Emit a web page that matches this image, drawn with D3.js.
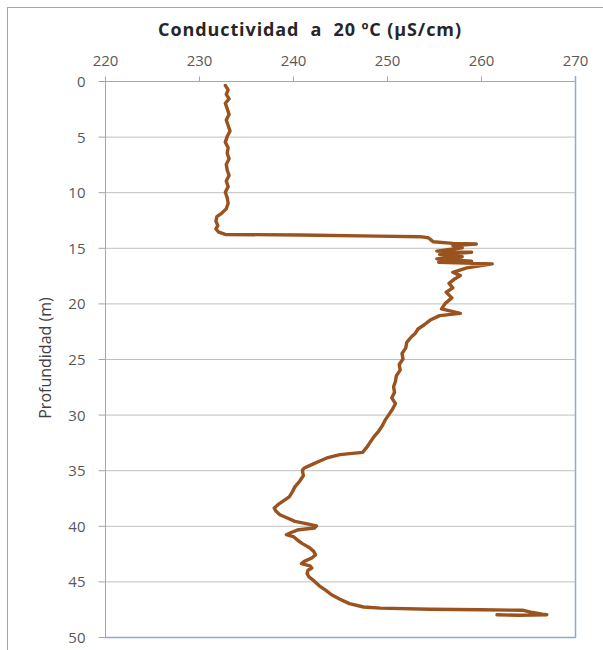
<!DOCTYPE html>
<html>
<head>
<meta charset="utf-8">
<script src="https://cdn.jsdelivr.net/npm/d3@7"></script>
<style>
  body { margin: 0; background: #fff; }
  svg text { font-family: "Open Sans", sans-serif; }
</style>
</head>
<body>
<div class="chart"></div>
<script>
// depth (m) and conductivity at 20 ºC (µS/cm), read from the profile
const depth = [
  0.4, 0.8, 1.2, 1.6, 2.0, 2.5, 3.0, 3.5, 4.0, 4.5, 5.0, 5.5, 6.0, 6.5, 7.0, 7.5, 8.0, 8.5, 9.0, 9.5,
  10.0, 10.5, 11.0, 11.5, 11.9, 12.2, 12.6, 13.0, 13.3, 13.6, 13.8, 13.85, 13.95, 14.0, 14.1, 14.45,
  14.6, 14.66, 14.8, 15.0, 15.3, 15.4, 15.6, 15.8, 16.0, 16.2, 16.3, 16.45, 16.8, 17.2, 17.5, 17.8,
  18.2, 18.6, 19.0, 19.5, 20.0, 20.5, 20.9, 21.1, 21.5, 21.9, 22.3, 22.7, 23.0, 23.5, 24.0, 24.5,
  25.0, 25.5, 26.0, 26.5, 27.0, 27.5, 28.0, 28.5, 29.0, 29.5, 30.0, 30.5, 31.0, 31.5, 32.0, 32.5,
  33.0, 33.4, 33.6, 33.9, 34.2, 34.5, 34.8, 35.0, 35.5, 36.0, 36.5, 37.0, 37.4, 37.8, 38.1, 38.4,
  38.7, 39.0, 39.3, 39.6, 39.8, 40.0, 40.2, 40.35, 40.6, 40.8, 41.0, 41.3, 41.6, 42.0, 42.3, 42.6,
  42.9, 43.2, 43.4, 43.6, 43.8, 44.0, 44.3, 44.6, 45.0, 45.4, 45.8, 46.2, 46.6, 47.0, 47.3, 47.4,
  47.5, 47.55, 47.6, 47.8, 47.95, 48.0, 48.05, 48.0
];
const conductivity = [
  232.8, 233.1, 232.9, 233.2, 232.8, 233.0, 233.2, 232.9, 233.1, 233.3, 233.0, 232.8, 233.1, 233.0, 233.2, 232.9, 233.0, 233.2, 232.9, 233.1,
  232.8, 233.0, 233.1, 232.9, 232.4, 231.9, 231.8, 232.0, 231.8, 232.1, 232.8, 240.7, 249.0, 253.5, 254.4, 254.9,
  257.0, 259.5, 257.0, 258.0, 255.3, 259.0, 255.6, 258.0, 255.3, 259.0, 255.5, 261.2, 258.5, 257.0, 257.8, 257.2,
  256.6, 257.0, 256.3, 256.9, 256.2, 255.8, 257.8, 255.6, 254.6, 254.0, 253.3, 253.0, 252.6, 252.1, 252.0, 251.6,
  251.7, 251.3, 251.4, 251.0, 250.9, 250.7, 250.8, 250.5, 250.9, 250.6, 250.2, 249.8, 249.5, 249.1, 248.6, 248.2,
  247.8, 247.4, 245.0, 243.6, 242.8, 242.0, 241.2, 241.0, 241.1, 240.7, 240.2, 239.9, 239.6, 238.9, 238.4, 238.0,
  238.2, 238.6, 239.4, 240.2, 241.4, 242.5, 242.3, 240.6, 239.8, 239.3, 240.1, 240.5, 241.0, 241.8, 242.2, 242.4,
  242.0, 241.2, 240.9, 241.8, 242.0, 241.6, 241.5, 241.7, 242.3, 242.8, 243.5, 244.1, 245.0, 246.0, 247.5, 249.3,
  254.6, 260.0, 264.5, 265.5, 266.5, 267.0, 264.0, 261.7
];
const xTicks = [220, 230, 240, 250, 260, 270];
const yTicks = [0, 5, 10, 15, 20, 25, 30, 35, 40, 45, 50];

const width = 603,
      height = 650;
const plotLeft = 105, plotRight = 575, plotTop = 81, plotBottom = 637;

const x = d3.scaleLinear().domain([220, 270]).range([plotLeft, plotRight]);
const y = d3.scaleLinear().domain([0, 50]).range([plotTop, plotBottom]);

const svg = d3.select('.chart')
              .append('svg')
              .attr('width', width)
              .attr('height', height);

// outer chart border
svg.append('rect')
   .attr('x', 7.5).attr('y', 7.5)
   .attr('width', 700).attr('height', 700)
   .attr('fill', 'none')
   .attr('stroke', '#a6a6a6');

// horizontal gridlines
svg.append('g')
   .selectAll('line')
   .data(yTicks.slice(1, -1))
   .enter()
   .append('line')
   .attr('x1', plotLeft).attr('x2', plotRight)
   .attr('y1', d => y(d) + 0.5).attr('y2', d => y(d) + 0.5)
   .attr('stroke', '#bfbfbf');

// plot frame on the right and bottom
svg.append('path')
   .attr('d', `M${plotRight + 0.5},${plotTop - 5}V${plotBottom + 0.5}H${plotLeft}`)
   .attr('fill', 'none')
   .attr('stroke', '#8eaad0')
   .attr('stroke-width', 1.5);

const xAxis = d3.axisTop(x).tickValues(xTicks).tickSize(5).tickPadding(11);
const yAxis = d3.axisLeft(y).tickValues(yTicks).tickSize(7).tickPadding(13);

const gx = svg.append('g')
   .attr('transform', `translate(0,${plotTop + 0.5})`)
   .call(xAxis);
const gy = svg.append('g')
   .attr('transform', `translate(${plotLeft + 0.5},0)`)
   .call(yAxis);

[gx, gy].forEach(g => {
  g.select('.domain').attr('stroke', '#a6a6a6');
  g.selectAll('.tick line').attr('stroke', '#a6a6a6');
  g.selectAll('.tick text')
   .attr('fill', '#595959')
   .style('font-size', '15px');
});
gx.select('.domain').attr('d', `M${plotLeft},0H${plotRight}`);
gy.select('.domain').attr('d', `M0,${plotTop}V${plotBottom}`);
gy.selectAll('.tick text').attr('dy', '0.36em');

// profile line
const line = d3.line()
               .x((d, i) => x(conductivity[i]))
               .y(d => y(d));

svg.append('path')
   .datum(depth)
   .attr('d', line)
   .attr('fill', 'none')
   .attr('stroke', '#9a521f')
   .attr('stroke-width', 3.4)
   .attr('stroke-linejoin', 'round')
   .attr('stroke-linecap', 'round');

// titles
svg.append('text')
   .attr('x', 310).attr('y', 36)
   .attr('text-anchor', 'middle')
   .style('white-space', 'pre')
   .style('font-size', '18px')
   .style('font-weight', 'bold')
   .style('letter-spacing', '0.9px')
   .attr('fill', '#262626')
   .text('Conductividad  a  20 ºC (µS/cm)');

svg.append('text')
   .attr('transform', 'translate(51,358) rotate(-90)')
   .attr('text-anchor', 'middle')
   .style('font-size', '16px')
   .attr('fill', '#404040')
   .text('Profundidad (m)');
</script>
</body>
</html>
